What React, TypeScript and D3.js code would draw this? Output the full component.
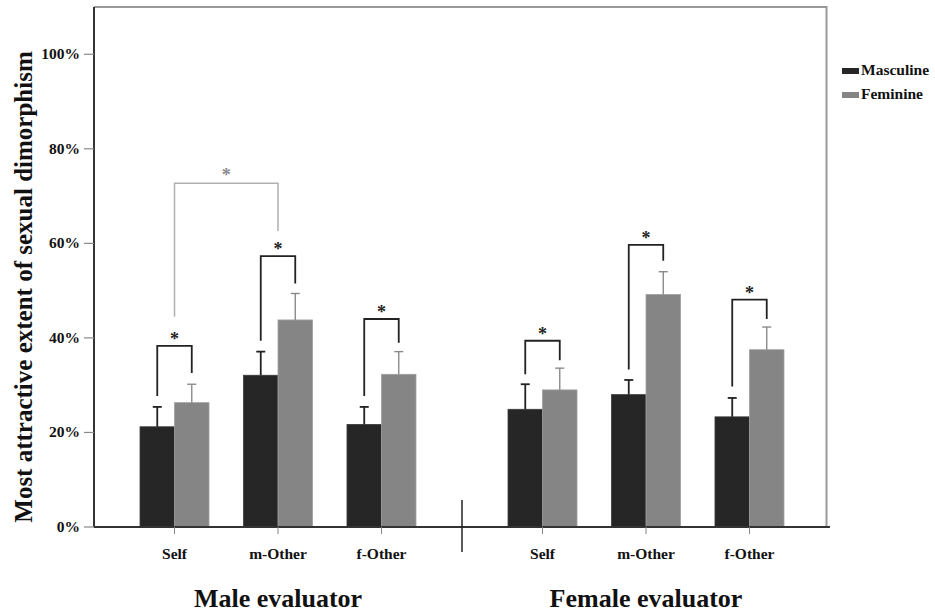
import React from "react";
import * as d3 from "d3";

const evaluators = ["Male evaluator", "Female evaluator"];
const conditions = ["Self", "m-Other", "f-Other"];
const series = ["Masculine", "Feminine"];

// values in %, order: male Self, m-Other, f-Other, female Self, m-Other, f-Other
const masculineMean = [21.2, 32.1, 21.7, 24.9, 28.0, 23.3];
const masculineErr = [4.2, 5.0, 3.7, 5.3, 3.1, 4.0];
const feminineMean = [26.3, 43.8, 32.3, 29.0, 49.2, 37.5];
const feminineErr = [3.9, 5.6, 4.8, 4.6, 4.8, 4.8];

// significance brackets (%)
const bracketTop = [38.3, 57.3, 44.0, 39.4, 59.7, 48.1];
const bracketLeft = [27.7, 39.4, 27.7, 32.3, 33.3, 29.7];
const bracketRight = [32.6, 51.5, 39.0, 35.3, 56.3, 44.0];
const crossBracket = { from: 0, to: 1, top: 72.7, left: 44.5, right: 62.6 };

const yTicks = [0, 20, 40, 60, 80, 100];

const W = 935;
const H = 613;
const m = { left: 94, right: 830, top: 7, bottom: 527 };
const font = "'Liberation Serif', 'Times New Roman', serif";
const colors = ["#262626", "#858585"];

export default function App() {
  const y = d3.scaleLinear().domain([0, 110]).range([m.bottom, m.top]);
  const outer = d3.scaleBand().domain(evaluators).range([m.left, m.right]);
  const inner = d3
    .scalePoint()
    .domain(conditions)
    .range([0, outer.bandwidth()])
    .padding(0.778);
  const bar = d3.scaleBand().domain(series).range([-34.5, 34.5]);

  const rows = evaluators.flatMap((ev, gi) =>
    conditions.map((c, ci) => {
      const i = gi * 3 + ci;
      return {
        ev,
        c,
        i,
        cx: (outer(ev) as number) + (inner(c) as number),
        vals: [masculineMean[i], feminineMean[i]],
        errs: [masculineErr[i], feminineErr[i]],
      };
    })
  );

  const legX = (s: string) => (bar(s) as number) + bar.bandwidth() / 2;
  const cb = crossBracket;
  const cbx1 = rows[cb.from].cx;
  const cbx2 = rows[cb.to].cx;

  return (
    <svg
      width={W}
      height={H}
      style={{ position: "absolute", left: 0, top: 0, background: "#fff" }}
      fontFamily={font}
      fontWeight="bold"
    >
      {/* frame */}
      <path
        d={`M${m.left},${m.top}H${m.right - 3.5}V${m.bottom}`}
        fill="none"
        stroke="#9a9a9a"
        strokeWidth={2}
      />
      {/* bars */}
      {rows.map((r) =>
        series.map((s, si) => (
          <rect
            key={r.i + s}
            x={r.cx + (bar(s) as number)}
            y={y(r.vals[si])}
            width={bar.bandwidth()}
            height={y(0) - y(r.vals[si])}
            fill={colors[si]}
            stroke={si ? "#a0a0a0" : "#3a3a3a"}
            strokeWidth={0.8}
          />
        ))
      )}
      {/* error bars */}
      {rows.map((r) =>
        series.map((s, si) => {
          const x = r.cx + legX(s);
          const top = y(r.vals[si] + r.errs[si]);
          const col = si ? "#8a8a8a" : "#222";
          return (
            <g key={"e" + r.i + s} stroke={col} strokeWidth={si ? 1.4 : 1.8}>
              <line x1={x} x2={x} y1={y(r.vals[si])} y2={top} />
              <line x1={x - 4.5} x2={x + 4.5} y1={top} y2={top} />
            </g>
          );
        })
      )}
      {/* significance brackets */}
      {rows.map((r) => {
        const x1 = r.cx + legX("Masculine");
        const x2 = r.cx + legX("Feminine");
        const t = y(bracketTop[r.i]);
        return (
          <g key={"b" + r.i}>
            <path
              d={`M${x1},${y(bracketLeft[r.i])}V${t}H${x2}V${y(bracketRight[r.i])}`}
              fill="none"
              stroke="#222"
              strokeWidth={1.8}
            />
            <text
              x={(x1 + x2) / 2}
              y={t - 1}
              textAnchor="middle"
              fontSize={18}
              fill="#222"
            >
              *
            </text>
          </g>
        );
      })}
      <path
        d={`M${cbx1},${y(cb.left)}V${y(cb.top)}H${cbx2}V${y(cb.right)}`}
        fill="none"
        stroke="#b0b0b0"
        strokeWidth={1.5}
      />
      <text
        x={(cbx1 + cbx2) / 2}
        y={y(cb.top) - 2}
        textAnchor="middle"
        fontSize={18}
        fill="#8a8a8a"
      >
        *
      </text>
      {/* y axis */}
      <line x1={m.left} x2={m.left} y1={m.top} y2={m.bottom} stroke="#333" strokeWidth={2} />
      {yTicks.map((t) => (
        <g key={t}>
          <line x1={m.left - 10} x2={m.left} y1={y(t)} y2={y(t)} stroke="#888" strokeWidth={1.2} />
          <text x={80} y={y(t) + 5} textAnchor="end" fontSize={15.5} fill="#111">
            {t}%
          </text>
        </g>
      ))}
      <text
        transform={`translate(32,${(m.top + m.bottom) / 2 + 20}) rotate(-90)`}
        textAnchor="middle"
        fontSize={25}
        fill="#111"
      >
        Most attractive extent of sexual dimorphism
      </text>
      {/* x axis */}
      <line x1={m.left} x2={m.right} y1={m.bottom} y2={m.bottom} stroke="#333" strokeWidth={2} />
      {rows.map((r) => (
        <g key={"x" + r.i}>
          <line x1={r.cx} x2={r.cx} y1={m.bottom} y2={m.bottom + 7} stroke="#888" strokeWidth={1} />
          <text x={r.cx} y={559} textAnchor="middle" fontSize={15.5} fill="#111">
            {r.c}
          </text>
        </g>
      ))}
      <line
        x1={outer("Female evaluator") as number}
        x2={outer("Female evaluator") as number}
        y1={500}
        y2={552}
        stroke="#222"
        strokeWidth={1.5}
      />
      {evaluators.map((ev) => (
        <text
          key={ev}
          x={(outer(ev) as number) + outer.bandwidth() / 2}
          y={607}
          textAnchor="middle"
          fontSize={26}
          fill="#111"
        >
          {ev}
        </text>
      ))}
      {/* legend */}
      {series.map((s, si) => (
        <g key={s} transform={`translate(842,${68 + si * 24})`}>
          <rect width={17} height={6} fill={colors[si]} />
          <text x={19} y={7} fontSize={15.5} fill="#111">
            {s}
          </text>
        </g>
      ))}
    </svg>
  );
}
